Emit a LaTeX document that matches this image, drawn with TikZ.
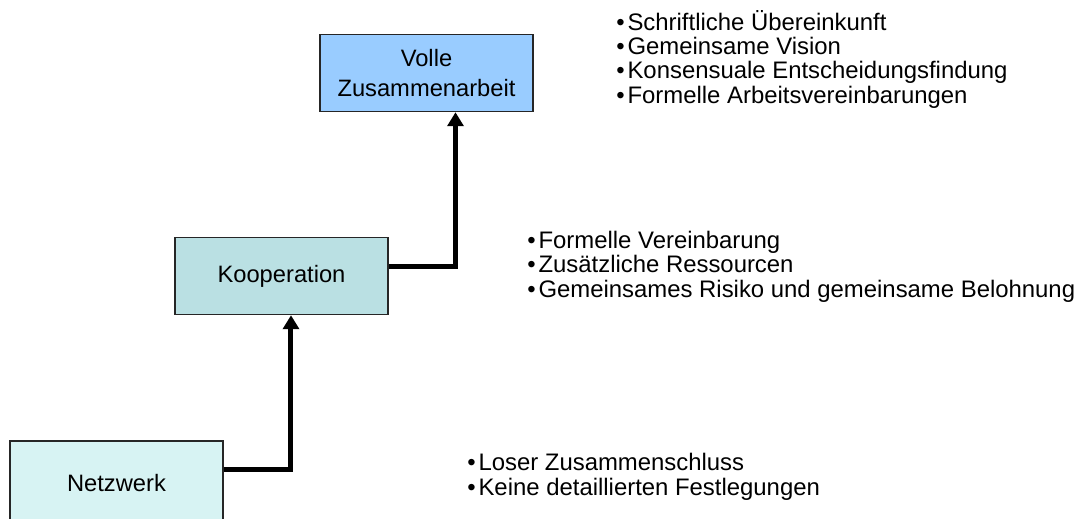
\documentclass[tikz,border=0pt]{standalone}
\usepackage{fontspec}
\setmainfont{Liberation Sans}
\usetikzlibrary{arrows.meta}
\definecolor{vollblau}{HTML}{99CCFF}
\definecolor{koopblau}{HTML}{BAE0E3}
\definecolor{netzblau}{HTML}{D7F3F3}
\newcommand{\pkt}{•\hspace{0.12em}}

\begin{document}
\begin{tikzpicture}[x=0.02cm,y=-0.02cm,
  stufe/.style={draw=black!85,line width=0.03cm,minimum width=4.26cm,minimum height=1.54cm,
    inner sep=0pt,align=center,font=\fontsize{13.5pt}{17pt}\selectfont},
  punkte/.style={anchor=base west,inner sep=0pt,align=left,font=\fontsize{13.6pt}{13.85pt}\selectfont},
  pfeil/.style={line width=0.1cm,-{Triangle[length=0.28cm,width=0.32cm]}}]
\useasboundingbox (0,0) rectangle (1080,518);
% Stufen
\node[stufe,fill=netzblau,minimum height=1.68cm] (netz) at (116.5,483) {Netzwerk};
\node[stufe,fill=koopblau] (koop) at (281.5,276) {Kooperation};
\node[stufe,fill=vollblau] (volle) at (426.5,73) {Volle\\Zusammenarbeit};
% Pfeile
\draw[pfeil] ([yshift=0.27cm]netz.east) -| ([xshift=0.19cm]koop.south);
\draw[pfeil] ([yshift=0.2cm]koop.east) -| ([xshift=0.58cm]volle.south);
% Merkmale (Anker: Grundlinie der letzten Zeile)
\node[punkte] (listvolle) at (616,103) {\pkt Schriftliche Übereinkunft\\\pkt Gemeinsame Vision\\\pkt Konsensuale Entscheidungsfindung\\\pkt Formelle Arbeitsvereinbarungen};
\node[punkte] (listkoop) at (527,297) {\pkt Formelle Vereinbarung\\\pkt Zusätzliche Ressourcen\\\pkt Gemeinsames Risiko und gemeinsame Belohnung};
\node[punkte] (listnetz) at (467,495) {\pkt Loser Zusammenschluss\\\pkt Keine detaillierten Festlegungen};
\end{tikzpicture}
\end{document}
